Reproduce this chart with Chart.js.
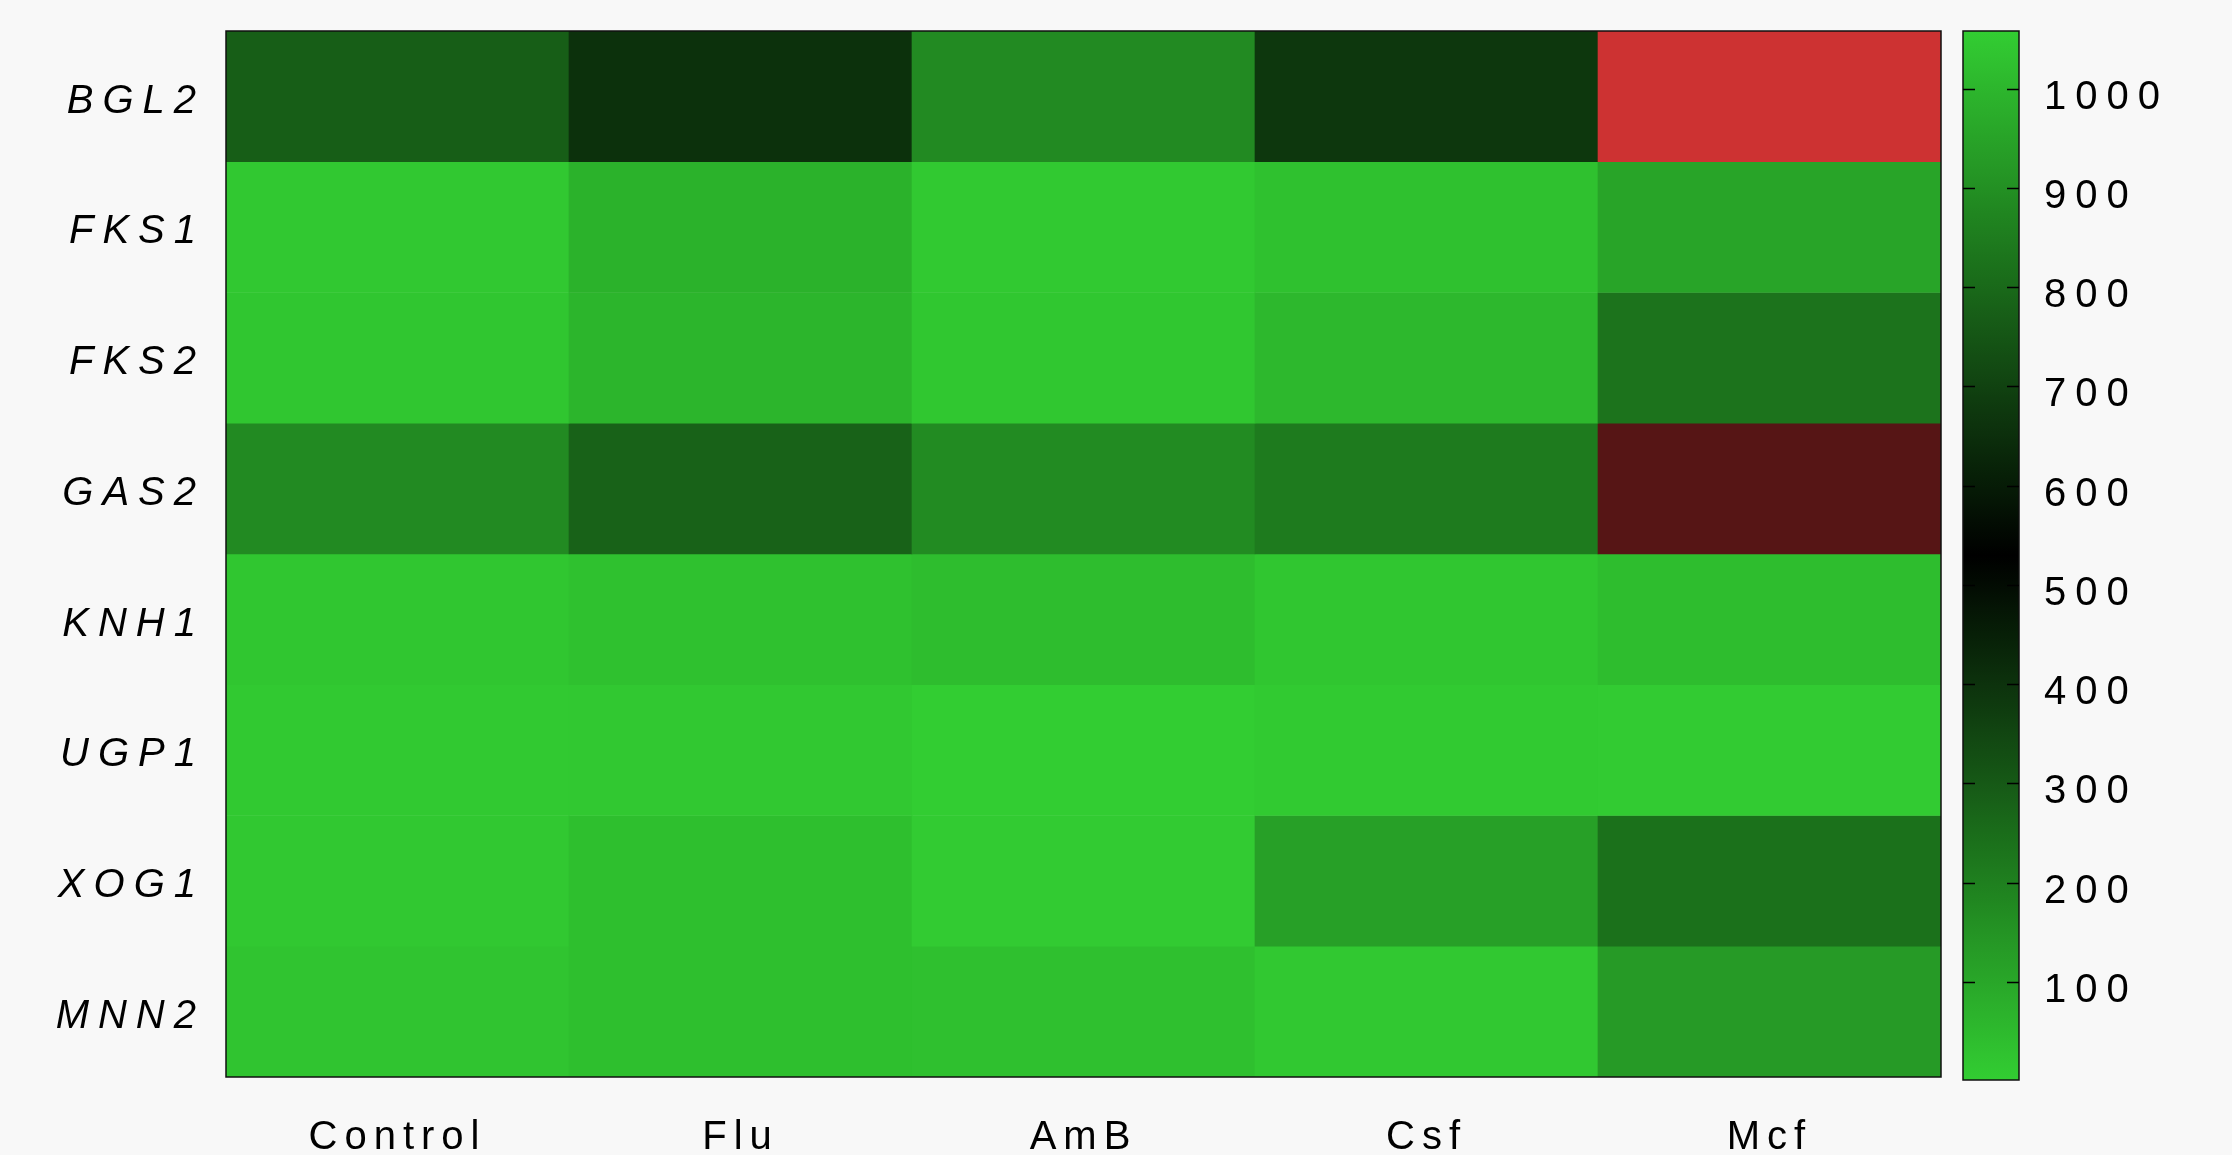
<!DOCTYPE html>
<html>
<head>
<meta charset="utf-8">
<script src="https://cdn.jsdelivr.net/npm/chart.js@4.4.1/dist/chart.umd.min.js"></script>
<style>
  html, body { margin: 0; padding: 0; background: #f8f8f8; }
  #wrap { position: relative; width: 2232px; height: 1155px; overflow: hidden; }
  #heat { position: absolute; left: 0; top: 0; }
  #bar { position: absolute; left: 1940px; top: 0; }
</style>
</head>
<body>
<div id="wrap">
  <canvas id="heat" width="1960" height="1155"></canvas>
  <canvas id="bar" width="292" height="1155"></canvas>
</div>
<script>
const treatments = ['Control', 'Flu', 'AmB', 'Csf', 'Mcf']
const genes = ['BGL2', 'FKS1', 'FKS2', 'GAS2', 'KNH1', 'UGP1', 'XOG1', 'MNN2']
const BGL2 = [773, 656, 884, 672, 1]
const FKS1 = [1045, 989, 1047, 1026, 952]
const FKS2 = [1040, 995, 1042, 1005, 825]
const GAS2 = [884, 783, 889, 847, 307]
const KNH1 = [1040, 1026, 1018, 1040, 1018]
const UGP1 = [1047, 1045, 1058, 1050, 1053]
const XOG1 = [1045, 1021, 1053, 942, 820]
const MNN2 = [1034, 1021, 1024, 1045, 926]
const rows = [BGL2, FKS1, FKS2, GAS2, KNH1, UGP1, XOG1, MNN2]

const colorMin = 1
const colorMax = 1058
const colorTicks = [100, 200, 300, 400, 500, 600, 700, 800, 900, 1000]

const mid = (colorMin + colorMax) / 2
const half = (colorMax - colorMin) / 2

function shade(t, r, g, b) {
    return `rgb(${Math.round(r * t)}, ${Math.round(g * t)}, ${Math.round(b * t)})`
}
// colour bar: limegreen - black - limegreen
function barColor(v) {
    return shade(Math.min(1, Math.abs(v - mid) / half), 50, 205, 50)
}
// cells below the middle of the scale are drawn in red
function cellColor(v) {
    const t = Math.min(1, Math.abs(v - mid) / half)
    return v >= mid ? shade(t, 50, 205, 50) : shade(t, 205, 50, 50)
}

const font = { family: "'Liberation Sans', Arial, sans-serif", size: 40 }

const spacing = {
    id: 'spacing',
    beforeLayout: (chart) => { chart.ctx.letterSpacing = '9px' },
    beforeDraw: (chart) => { chart.ctx.letterSpacing = '9px' },
}

const frame = {
    id: 'frame',
    afterDatasetsDraw: (chart) => {
        const { ctx, chartArea: a } = chart
        ctx.save()
        ctx.strokeStyle = '#111'
        ctx.lineWidth = 1.5
        ctx.strokeRect(a.left, a.top, a.right - a.left, a.bottom - a.top)
        ctx.restore()
    },
}

const tickMarks = {
    id: 'tickMarks',
    afterDatasetsDraw: (chart) => {
        const { ctx, chartArea: a } = chart
        const y = chart.scales.y
        ctx.save()
        ctx.strokeStyle = '#000'
        ctx.lineWidth = 1.5
        ctx.beginPath()
        colorTicks.forEach((v) => {
            const py = Math.round(y.getPixelForValue(v)) + 0.5
            ctx.moveTo(a.left, py)
            ctx.lineTo(a.left + 12, py)
            ctx.moveTo(a.right - 12, py)
            ctx.lineTo(a.right, py)
        })
        ctx.stroke()
        ctx.restore()
    },
}

const heatChart = new Chart(document.getElementById('heat'), {
    type: 'bar',
    data: {
        labels: treatments,
        datasets: genes.map((g, i) => ({
            label: g,
            data: rows[i].map(() => [i, i + 1]),
            backgroundColor: rows[i].map(cellColor),
            borderWidth: 0,
            barPercentage: 1,
            categoryPercentage: 1,
            grouped: false,
        })),
    },
    options: {
        responsive: false,
        animation: false,
        layout: { padding: { top: 31, right: 19, left: 0, bottom: 0 } },
        plugins: { legend: { display: false }, tooltip: { enabled: false } },
        scales: {
            x: {
                grid: { display: false },
                border: { display: false },
                afterFit: (axis) => {
                    axis.height = 78
                    axis.paddingLeft = 0
                    axis.paddingRight = 0
                },
                ticks: { color: '#000', padding: 29, font: font },
            },
            y: {
                type: 'linear',
                min: 0,
                max: genes.length,
                reverse: true,
                grid: { display: false },
                border: { display: false },
                afterBuildTicks: (axis) => {
                    axis.ticks = genes.map((g, i) => ({ value: i + 0.5 }))
                },
                afterFit: (axis) => {
                    axis.width = 226
                    axis.paddingTop = 0
                    axis.paddingBottom = 0
                },
                ticks: {
                    color: '#000',
                    padding: 13,
                    labelOffset: 5,
                    autoSkip: false,
                    font: { ...font, style: 'italic' },
                    callback: (v) => genes[Math.floor(v)],
                },
            },
        },
    },
    plugins: [spacing, frame],
})

// treatment labels are set a little tighter than the others
const xScale = heatChart.scales.x
const drawXLabels = xScale.drawLabels.bind(xScale)
xScale.drawLabels = (area) => {
    heatChart.ctx.letterSpacing = '7px'
    drawXLabels(area)
    heatChart.ctx.letterSpacing = '9px'
}
heatChart.draw()

const barChart = new Chart(document.getElementById('bar'), {
    type: 'bar',
    data: {
        labels: [''],
        datasets: [
            {
                data: [[colorMin, colorMax]],
                backgroundColor: (c) => {
                    const chart = c.chart
                    if (!chart.chartArea) return 'black'
                    const ys = chart.scales.y
                    const g = chart.ctx.createLinearGradient(0, ys.getPixelForValue(colorMax), 0, ys.getPixelForValue(colorMin))
                    const n = 40
                    for (let k = 0; k <= n; k++) {
                        g.addColorStop(k / n, barColor(colorMax - (colorMax - colorMin) * k / n))
                    }
                    return g
                },
                borderWidth: 0,
                barPercentage: 1,
                categoryPercentage: 1,
            },
        ],
    },
    options: {
        responsive: false,
        animation: false,
        layout: { padding: { left: 23, top: 31, bottom: 75, right: 0 } },
        plugins: { legend: { display: false }, tooltip: { enabled: false } },
        scales: {
            x: { display: false },
            y: {
                position: 'right',
                min: colorMin,
                max: colorMax,
                grid: { display: false },
                border: { display: false },
                afterBuildTicks: (axis) => {
                    axis.ticks = colorTicks.map((v) => ({ value: v }))
                },
                afterFit: (axis) => {
                    axis.width = 213
                    axis.paddingTop = 0
                    axis.paddingBottom = 0
                },
                ticks: {
                    color: '#000',
                    padding: 17,
                    labelOffset: 9,
                    font: font,
                    callback: (v) => String(v),
                },
            },
        },
    },
    plugins: [spacing, frame, tickMarks],
})
</script>
</body>
</html>
